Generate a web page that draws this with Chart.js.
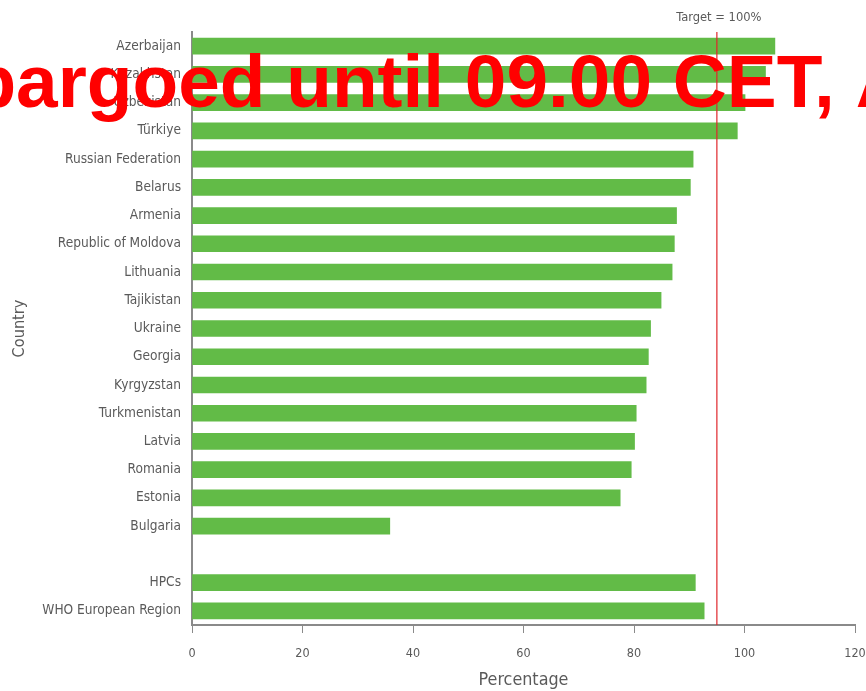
<!DOCTYPE html>
<html><head><meta charset="utf-8">
<script src="https://cdn.jsdelivr.net/npm/chart.js@4"></script>
<style>html,body{margin:0;padding:0;background:#fff;overflow:hidden}#wrap{position:relative;width:866px;height:691px}</style>
</head><body><div id="wrap"><canvas id="c" width="866" height="691"></canvas></div>
<script>
const countries = ["Azerbaijan","Kazakhstan","Uzbekistan","Türkiye","Russian Federation","Belarus","Armenia","Republic of Moldova","Lithuania","Tajikistan","Ukraine","Georgia","Kyrgyzstan","Turkmenistan","Latvia","Romania","Estonia","Bulgaria","","HPCs","WHO European Region"];
const coverage = [105.5,103.8,100.1,98.7,90.7,90.2,87.7,87.3,86.9,84.9,83.0,82.6,82.2,80.4,80.1,79.5,77.5,35.8,null,91.1,92.7];
const xTicks = [0,20,40,60,80,100,120];
const targetValue = 95;
const targetLabel = "Target = 100%";
const xTitle = "Percentage";
const yTitle = "Country";
const watermarkText = "Embargoed until 09.00 CET, April";

const FONT = '"DejaVu Sans Condensed", "DejaVu Sans", sans-serif';
const TEXT = '#5a5a5a';
const AXIS = '#8a8a8a';

const overlay = {
  id: 'overlay',
  afterDatasetsDraw(chart) {
    const {ctx, chartArea, scales} = chart;
    const x = scales.x.getPixelForValue(targetValue);
    ctx.save();
    ctx.strokeStyle = '#e0262b';
    ctx.lineWidth = 1.2;
    ctx.beginPath();
    ctx.moveTo(x, chartArea.top);
    ctx.lineTo(x, chartArea.bottom);
    ctx.stroke();
    ctx.fillStyle = TEXT;
    ctx.font = '12.8px ' + FONT;
    ctx.textAlign = 'center';
    ctx.textBaseline = 'middle';
    ctx.fillText(targetLabel, x + 2, 17.5);
    ctx.restore();
  },
  afterDraw(chart) {
    const {ctx} = chart;
    ctx.save();
    ctx.fillStyle = '#ff0000';
    ctx.font = 'bold 74.8px "Liberation Sans", Arial, sans-serif';
    ctx.textAlign = 'left';
    ctx.textBaseline = 'alphabetic';
    ctx.fillText(watermarkText, -146, 107);
    ctx.restore();
  }
};

new Chart(document.getElementById('c'), {
  type: 'bar',
  data: {
    labels: countries,
    datasets: [{ data: coverage, backgroundColor: '#62bb47', borderWidth: 0, barThickness: 16 }]
  },
  options: {
    indexAxis: 'y',
    responsive: false,
    animation: false,
    devicePixelRatio: 1,
    layout: { padding: { top: 32, right: 11, left: 0, bottom: 0 } },
    plugins: { legend: { display: false }, tooltip: { enabled: false } },
    scales: {
      x: {
        type: 'linear', min: 0, max: 120,
        afterBuildTicks: s => { s.ticks = xTicks.map(v => ({ value: v })); },
        afterFit: s => { s.height = 66; s.paddingLeft = 0; s.paddingRight = 0; },
        grid: { display: true, drawOnChartArea: false, drawTicks: true, tickLength: 8, color: AXIS, lineWidth: 1 },
        border: { display: true, color: AXIS, width: 2 },
        ticks: { color: TEXT, font: { family: FONT, size: 12.5 }, padding: 13, maxRotation: 0, autoSkip: false },
        title: { display: true, text: xTitle, color: TEXT, font: { family: FONT, size: 17.8 }, padding: { top: 0, bottom: 0 } }
      },
      y: {
        afterFit: s => { s.width = 192; },
        grid: { display: false, drawTicks: false },
        border: { display: true, color: AXIS, width: 2 },
        ticks: { color: TEXT, font: { family: FONT, size: 13.6 }, padding: 11, autoSkip: false },
        title: { display: true, text: yTitle, color: TEXT, font: { family: FONT, size: 16.2 }, padding: { top: 10 } }
      }
    }
  },
  plugins: [overlay]
});
</script></body></html>
